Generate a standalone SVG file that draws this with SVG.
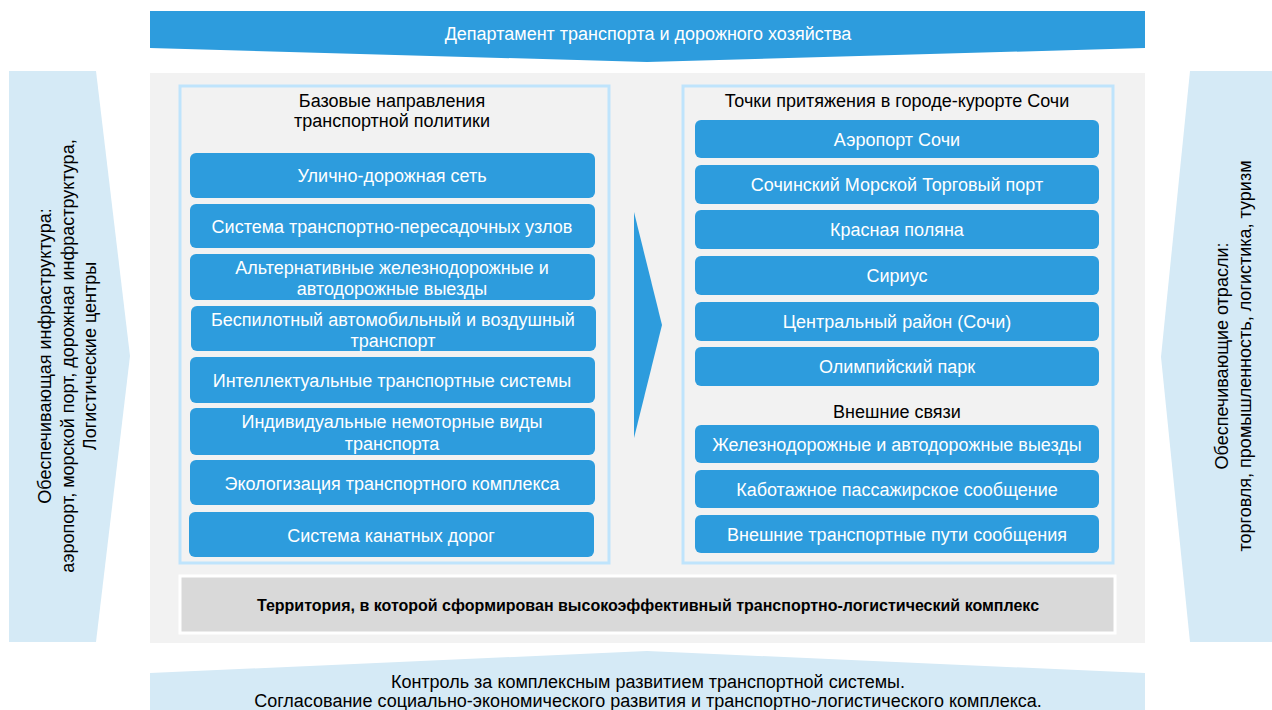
<svg xmlns="http://www.w3.org/2000/svg" width="1272" height="710" viewBox="0 0 1272 710">
<style>
  text { font-family: "Liberation Sans", Arial, sans-serif; }
  .w { fill: #ffffff; font-size: 18px; text-anchor: middle; }
  .k { fill: #000000; font-size: 18px; text-anchor: middle; }
  .b { fill: #000000; font-size: 16px; font-weight: bold; text-anchor: middle; }
  .item { fill: #2d9cdd; }
  .light { fill: #d5eaf6; }
  .frame { fill: #f2f2f2; stroke: #bfe4fc; stroke-width: 3; }
</style>
<rect width="1272" height="710" fill="#ffffff"/>

<g id="top-banner">
  <polygon points="150,11 1145,11 1145,48 647,62 150,48" fill="#2d9cdd"/>
  <text class="w" x="648" y="40">Департамент транспорта и дорожного хозяйства</text>
</g>

<g id="main-panel">
  <rect x="150" y="73" width="995" height="570" fill="#f2f2f2"/>
</g>

<g id="left-arrow">
  <polygon class="light" points="9,71 96,71 130,356 96,642 9,642"/>
  <g transform="translate(67,356) rotate(-90)">
    <text class="k" x="0" y="-16">Обеспечивающая инфраструктура:</text>
    <text class="k" x="0" y="7">аэропорт, морской порт, дорожная инфраструктура,</text>
    <text class="k" x="0" y="29">Логистические центры</text>
  </g>
</g>

<g id="right-arrow">
  <polygon class="light" points="1190,71 1272,71 1272,642 1190,642 1161,357"/>
  <g transform="translate(1234,356) rotate(-90)">
    <text class="k" x="0" y="-6">Обеспечивающие отрасли:</text>
    <text class="k" x="0" y="17">торговля, промышленность, логистика, туризм</text>
  </g>
</g>

<g id="bottom-banner">
  <polygon class="light" points="150,673 647,651 1145,673 1145,710 150,710"/>
  <text class="k" x="648" y="688">Контроль за комплексным развитием транспортной системы.</text>
  <text class="k" x="648" y="707">Согласование социально-экономического развития и транспортно-логистического комплекса.</text>
</g>

<g id="left-box">
  <rect class="frame" x="180" y="86" width="429" height="477"/>
  <text class="k" x="392" y="107">Базовые направления</text>
  <text class="k" x="392" y="127">транспортной политики</text>
</g>
<g id="l1"><rect class="item" x="190" y="153" width="405" height="45" rx="6"/><text class="w" x="392" y="182">Улично-дорожная сеть</text></g>
<g id="l2"><rect class="item" x="190" y="204" width="405" height="44" rx="6"/><text class="w" x="392" y="233">Система транспортно-пересадочных узлов</text></g>
<g id="l3"><rect class="item" x="190" y="254" width="405" height="46" rx="6"/><text class="w" x="392" y="274">Альтернативные железнодорожные и</text><text class="w" x="392" y="295">автодорожные выезды</text></g>
<g id="l4"><rect class="item" x="191" y="306" width="405" height="45" rx="6"/><text class="w" x="393" y="326">Беспилотный автомобильный и воздушный</text><text class="w" x="393" y="347">транспорт</text></g>
<g id="l5"><rect class="item" x="190" y="357" width="405" height="46" rx="6"/><text class="w" x="392" y="387">Интеллектуальные транспортные системы</text></g>
<g id="l6"><rect class="item" x="190" y="408" width="405" height="47" rx="6"/><text class="w" x="392" y="428">Индивидуальные немоторные виды</text><text class="w" x="392" y="450">транспорта</text></g>
<g id="l7"><rect class="item" x="190" y="460" width="405" height="45" rx="6"/><text class="w" x="392" y="490">Экологизация транспортного комплекса</text></g>
<g id="l8"><rect class="item" x="189" y="512" width="405" height="45" rx="6"/><text class="w" x="391" y="542">Система канатных дорог</text></g>

<g id="connectors">
  <polygon points="634,212 662,325 634,438" fill="#2d9cdd"/>
</g>

<g id="right-box">
  <rect class="frame" x="683" y="86" width="430" height="477"/>
  <text class="k" x="897" y="107">Точки притяжения в городе-курорте Сочи</text>
  <text class="k" x="897" y="418">Внешние связи</text>
</g>
<g id="r1"><rect class="item" x="695" y="120" width="404" height="38" rx="6"/><text class="w" x="897" y="146">Аэропорт Сочи</text></g>
<g id="r2"><rect class="item" x="695" y="165" width="404" height="39" rx="6"/><text class="w" x="897" y="191">Сочинский Морской Торговый порт</text></g>
<g id="r3"><rect class="item" x="695" y="210" width="404" height="39" rx="6"/><text class="w" x="897" y="236">Красная поляна</text></g>
<g id="r4"><rect class="item" x="695" y="256" width="404" height="39" rx="6"/><text class="w" x="897" y="282">Сириус</text></g>
<g id="r5"><rect class="item" x="695" y="302" width="404" height="39" rx="6"/><text class="w" x="897" y="328">Центральный район (Сочи)</text></g>
<g id="r6"><rect class="item" x="695" y="347" width="404" height="39" rx="6"/><text class="w" x="897" y="373">Олимпийский парк</text></g>
<g id="r7"><rect class="item" x="695" y="425" width="404" height="38" rx="6"/><text class="w" x="897" y="451">Железнодорожные и автодорожные выезды</text></g>
<g id="r8"><rect class="item" x="695" y="470" width="404" height="38" rx="6"/><text class="w" x="897" y="496">Каботажное пассажирское сообщение</text></g>
<g id="r9"><rect class="item" x="695" y="515" width="404" height="38" rx="6"/><text class="w" x="897" y="541">Внешние транспортные пути сообщения</text></g>

<g id="territory">
  <rect x="180" y="576" width="935" height="57" fill="#d9d9d9" stroke="#ffffff" stroke-width="3"/>
  <text class="b" x="648" y="611">Территория, в которой сформирован высокоэффективный транспортно-логистический комплекс</text>
</g>
</svg>
